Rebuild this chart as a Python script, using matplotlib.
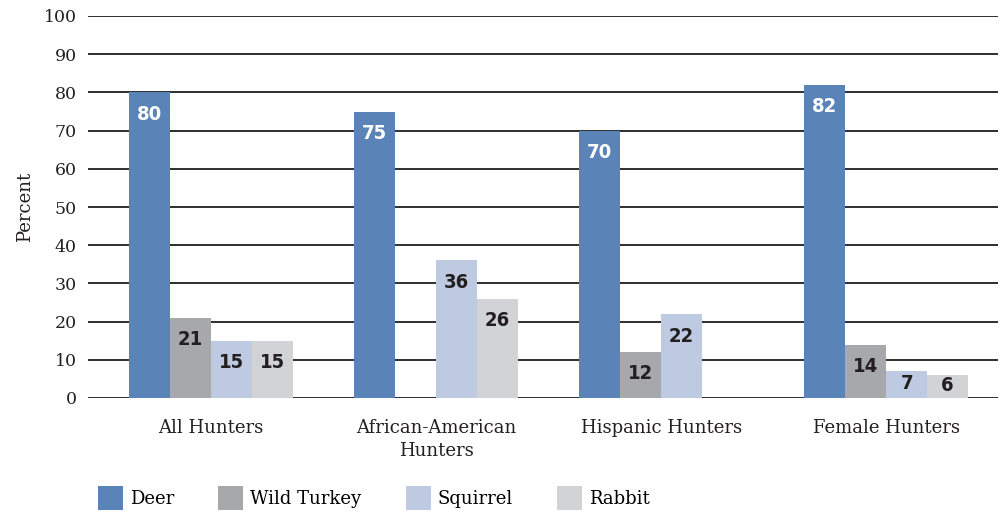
import numpy as np
import matplotlib.pyplot as plt
from matplotlib.patches import Patch

groups = ['All Hunters', 'African-American\nHunters', 'Hispanic Hunters', 'Female Hunters']
species = ['Deer', 'Wild Turkey', 'Squirrel', 'Rabbit']
deer = [80, 75, 70, 82]
wild_turkey = [21, np.nan, 12, 14]
squirrel = [15, 36, 22, 7]
rabbit = [15, 26, np.nan, 6]

colors = ['#5a84b7', '#a7a8ab', '#bdcae2', '#d2d3d5']
serif = 'DejaVu Serif'

fig = plt.figure(figsize=(10.03, 5.16), dpi=100)
ax = fig.add_axes([88 / 1003, 118 / 516, 910 / 1003, 382 / 516])

x = np.arange(len(groups))
width = 0.182
series = [deer, wild_turkey, squirrel, rabbit]

for i, (vals, col) in enumerate(zip(series, colors)):
    pos = x + (i - 1.5) * width
    vals = np.array(vals, dtype=float)
    ax.bar(pos, np.nan_to_num(vals), width, color=col, zorder=3, linewidth=0)
    for px, v in zip(pos, vals):
        if np.isnan(v):
            continue
        # value sits just inside the top of its bar
        ty = max(v - 5.8, v / 2 + 0.3)
        ax.text(px, ty, '%d' % v, ha='center', va='center',
                color='white' if i == 0 else '#231f20',
                fontsize=14.5, fontweight='bold', family='DejaVu Sans',
                fontstretch='condensed', zorder=4)

ax.set_xlim(-0.547, 3.497)
ax.set_ylim(0, 100)
ax.set_yticks(range(0, 101, 10))
ax.yaxis.grid(True, color='#1e1e1e', linewidth=1.3, zorder=0)
ax.set_axisbelow(True)
for s in ax.spines.values():
    s.set_visible(False)
ax.tick_params(axis='both', length=0, labelsize=12.5, colors='#231f20')
ax.tick_params(axis='y', pad=8)
ax.tick_params(axis='x', pad=15)
ax.set_xticks(x)
ax.set_xticklabels(groups, family=serif, fontsize=13, linespacing=1.35)
for lab in ax.get_yticklabels():
    lab.set_family(serif)
ax.set_ylabel('Percent', family=serif, fontsize=13, color='#231f20', labelpad=7)

handles = [Patch(facecolor=c, edgecolor='none') for c in colors]
fig.legend(handles, species, loc='lower left', bbox_to_anchor=(85 / 1003, -0.012),
           ncol=4, frameon=False, prop={'family': serif, 'size': 13},
           handlelength=1.38, handleheight=1.65, handletextpad=0.4,
           columnspacing=2.45, borderaxespad=0.3)

fig.savefig('out.png', dpi=100)
